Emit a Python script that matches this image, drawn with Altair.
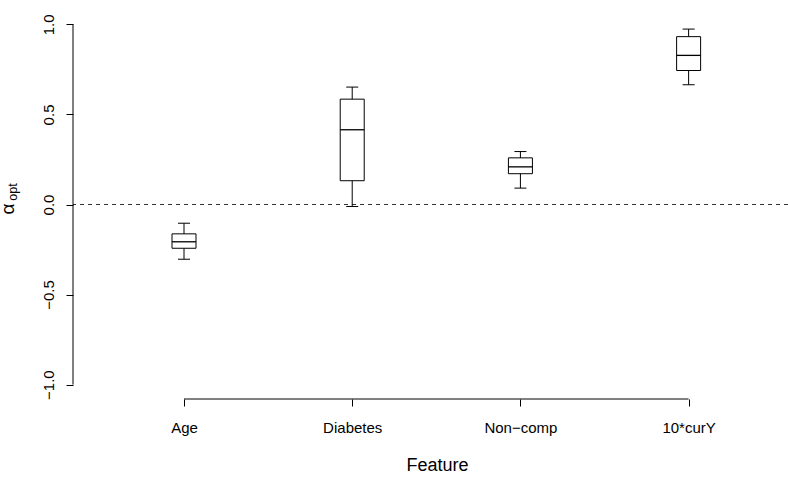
import altair as alt
import pandas as pd

# ---- data ----
features = ["Age", "Diabetes", "Non\u2212comp", "10*curY"]
positions = [1, 2, 3, 4]
whisker_low = [-0.304, -0.011, 0.091, 0.665]
q1 = [-0.243, 0.132, 0.171, 0.744]
median = [-0.207, 0.415, 0.209, 0.828]
q3 = [-0.163, 0.585, 0.259, 0.932]
whisker_high = [-0.104, 0.652, 0.294, 0.974]
y_ticks = [-1.0, -0.5, 0.0, 0.5, 1.0]
ref_line = [0.0]

FONT = "Liberation Sans"

df = pd.DataFrame({
    "pos": positions, "feature": features, "lo": whisker_low, "q1": q1,
    "med": median, "q3": q3, "hi": whisker_high,
})

xs = alt.Scale(domain=[0.34, 0.34 + 715 / 168.2], nice=False, zero=False)
ys = alt.Scale(domain=[-1.08, 1.08], nice=False, zero=False)

label_expr = "[" + ",".join("'" + f + "'" for f in [""] + features) + "][datum.value]"

xaxis = alt.Axis(values=positions, labelExpr=label_expr, tickSize=7, domain=False,
                 grid=False, labelFontSize=15, labelFont=FONT, labelColor="black",
                 tickColor="black", labelBaseline="alphabetic", labelPadding=26,
                 labelFlush=False, labelAlign="center",
                 title="Feature", titleFont=FONT, titleFontSize=18, titleFontWeight="normal",
                 titleColor="black", titleX=364, titleY=71, titleBaseline="alphabetic",
                 titleAlign="center")
yaxis = alt.Axis(values=y_ticks, format=".1f", labelAngle=270, labelAlign="center",
                 labelBaseline="alphabetic", labelPadding=13, tickSize=7, domain=False,
                 grid=False, labelFontSize=15, labelFont=FONT, labelColor="black",
                 tickColor="black", labelFlush=False, title="")

base = alt.Chart(df)

whisker = base.mark_rule(color="black", strokeWidth=1).encode(
    x=alt.X("pos:Q", scale=xs, axis=xaxis),
    y=alt.Y("lo:Q", scale=ys, axis=yaxis),
    y2="hi:Q",
)
box = base.mark_rect(fill="white", stroke="black", strokeWidth=1,
                     xOffset=-12, x2Offset=12).encode(
    x="pos:Q", x2=alt.X2("pos"), y="q1:Q", y2="q3:Q")
med = base.mark_rule(color="black", strokeWidth=1.3, xOffset=-12, x2Offset=12).encode(
    x="pos:Q", x2=alt.X2("pos"), y="med:Q")
cap_lo = base.mark_rule(color="black", strokeWidth=1, xOffset=-6, x2Offset=6).encode(
    x="pos:Q", x2=alt.X2("pos"), y="lo:Q")
cap_hi = base.mark_rule(color="black", strokeWidth=1, xOffset=-6, x2Offset=6).encode(
    x="pos:Q", x2=alt.X2("pos"), y="hi:Q")

zero = alt.Chart(pd.DataFrame({"y": ref_line})).mark_rule(
    color="#333333", strokeWidth=1, strokeDash=[4, 4]).encode(y="y:Q")

yline = alt.Chart(pd.DataFrame({"x": [0.34], "y": [min(y_ticks)], "y2": [max(y_ticks)]})).mark_rule(
    color="black", strokeWidth=1).encode(x="x:Q", y="y:Q", y2="y2:Q")
xline = alt.Chart(pd.DataFrame({"x": [min(positions)], "x2": [max(positions)], "y": [-1.08]})).mark_rule(
    color="black", strokeWidth=1).encode(x="x:Q", x2="x2:Q", y="y:Q")

alpha = alt.Chart(pd.DataFrame({"t": ["\u03b1"]})).mark_text(
    angle=270, fontSize=19, font=FONT, baseline="alphabetic", align="center", color="black"
).encode(x=alt.value(-59), y=alt.value(199), text="t:N")
sub = alt.Chart(pd.DataFrame({"t": ["opt"]})).mark_text(
    angle=270, fontSize=12.6, font=FONT, baseline="alphabetic", align="center", color="black"
).encode(x=alt.value(-56), y=alt.value(182), text="t:N")

chart = alt.layer(zero, whisker, box, med, cap_lo, cap_hi, yline, xline, alpha, sub).properties(
    width=715, height=389,
    autosize=alt.AutoSizeParams(type="none"),
    padding={"left": 73, "top": 10, "right": 0, "bottom": 85},
    background="white",
).configure_view(stroke=None)

chart.save("out.html", embed_options={"renderer": "svg", "actions": False})
